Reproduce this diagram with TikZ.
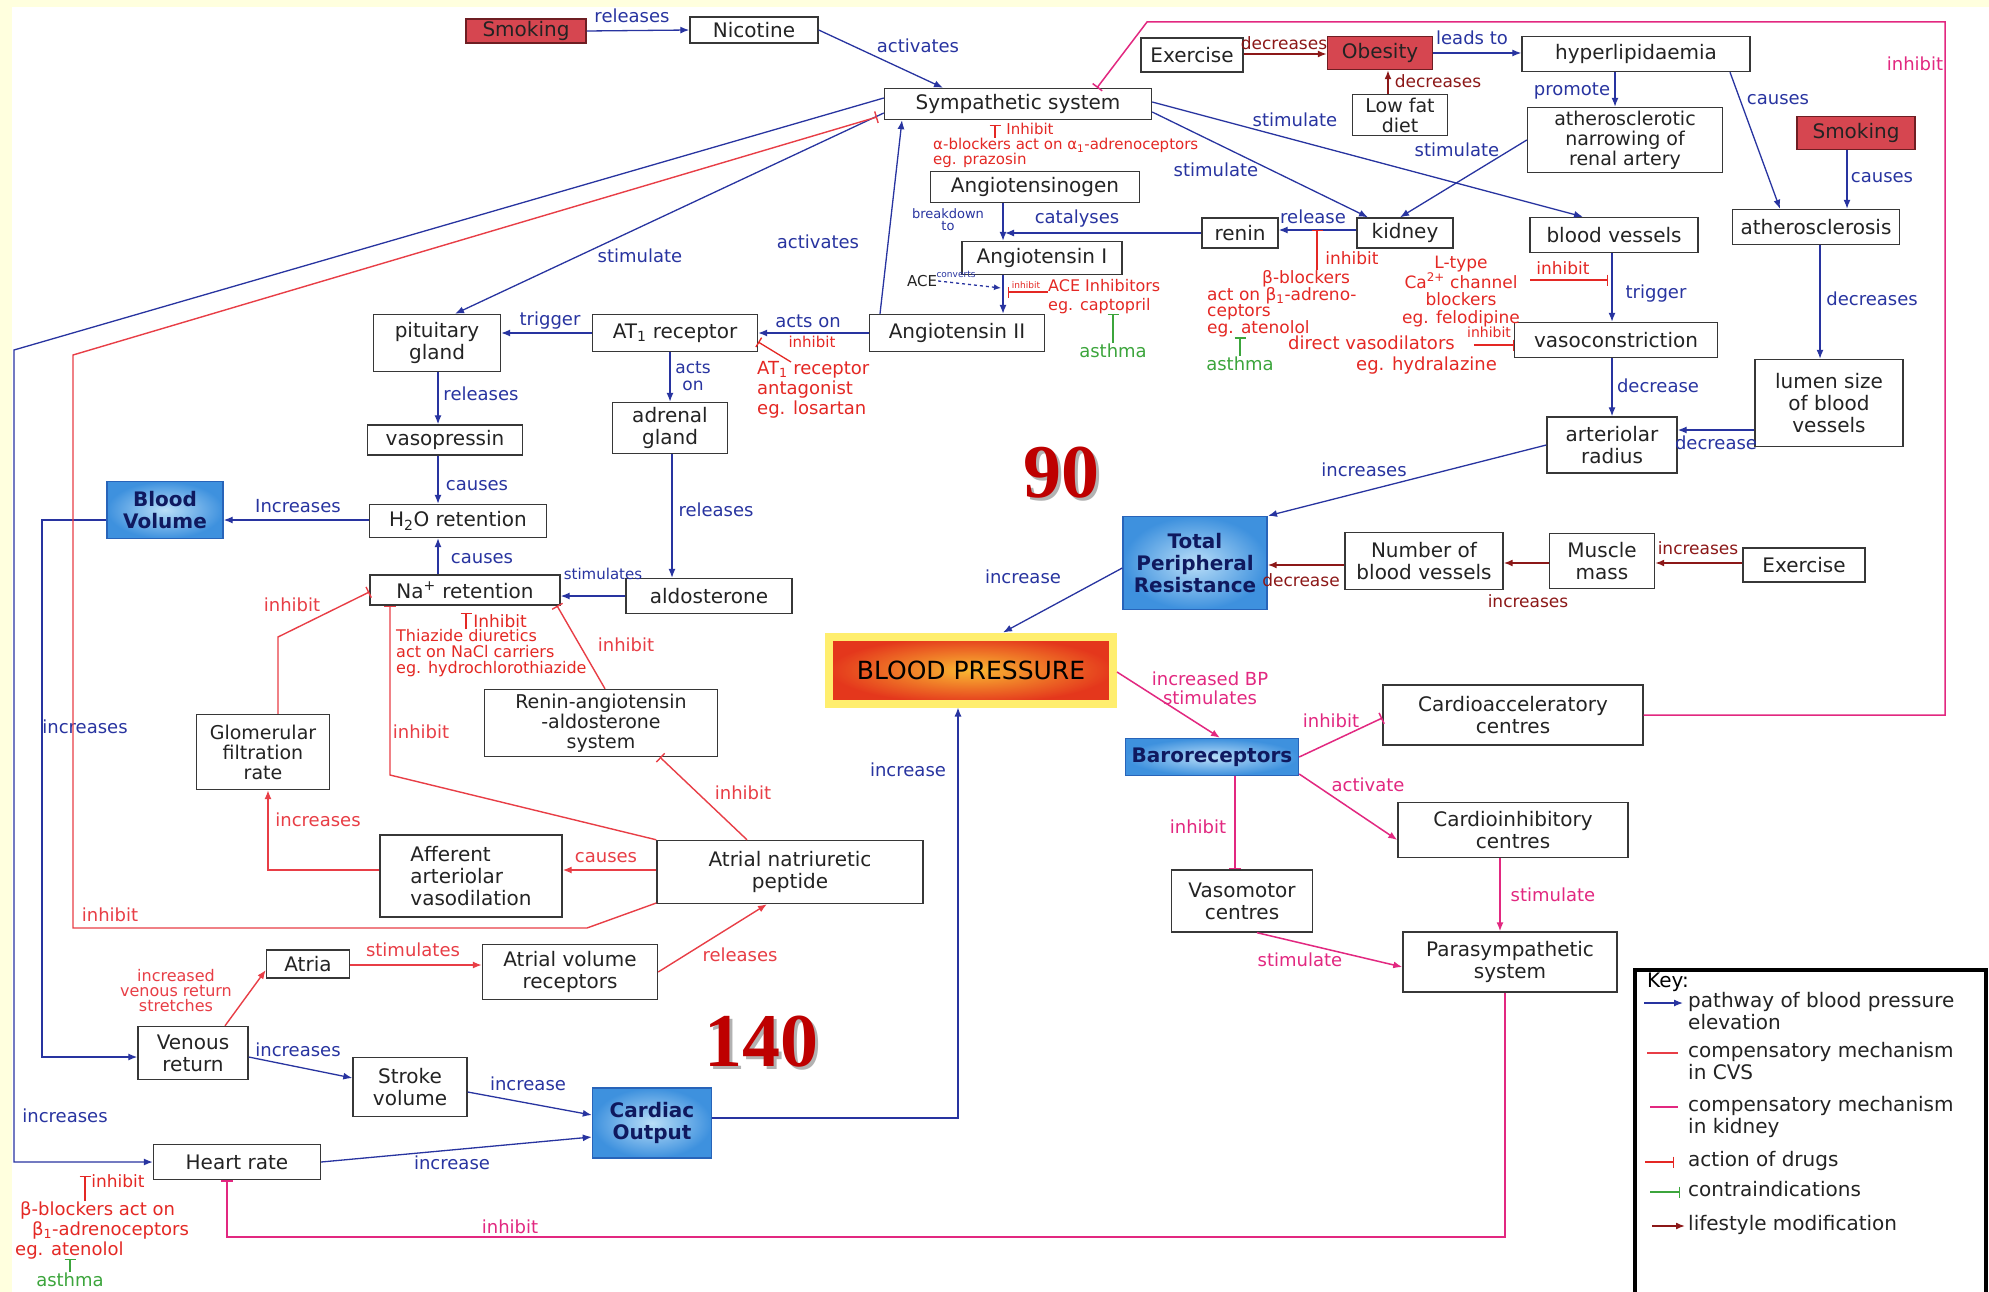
\documentclass[tikz,border=0pt]{standalone}
\usepackage{fontspec}
\setmainfont{DejaVu Sans}
\newfontfamily\numfont{Liberation Serif}
\usepackage{xcolor}
\definecolor{bg-yellow}{RGB}{255,255,222}
\definecolor{box-line}{RGB}{55,55,55}
\definecolor{text-primary}{RGB}{35,35,35}
\definecolor{pathway-blue}{RGB}{40,52,160}
\definecolor{mech-red}{RGB}{232,62,70}
\definecolor{mech-pink}{RGB}{226,40,128}
\definecolor{drug-red}{RGB}{228,40,36}
\definecolor{contra-green}{RGB}{60,165,60}
\definecolor{lifestyle-red}{RGB}{140,24,24}
\definecolor{smoke-fill}{RGB}{214,70,80}
\definecolor{smoke-line}{RGB}{110,30,35}
\definecolor{blue-inner}{RGB}{185,222,248}
\definecolor{blue-outer}{RGB}{62,145,222}
\definecolor{blue-line}{RGB}{40,100,185}
\definecolor{navy-text}{RGB}{15,25,95}
\definecolor{bp-yellow}{RGB}{255,238,110}
\definecolor{bp-inner}{RGB}{250,185,50}
\definecolor{bp-outer}{RGB}{228,55,28}
\definecolor{number-red}{RGB}{190,0,0}
\usepackage{tikz}
\usetikzlibrary{positioning,arrows.meta}

\newcommand{\cmBox}{\fontsize{20}{22}\selectfont}
\newcommand{\cmSmall}{\fontsize{19}{20}\selectfont}
\newcommand{\cmBP}{\fontsize{25}{26}\selectfont}
\newcommand{\cmLabel}{\fontsize{18}{19}\selectfont}
\newcommand{\cmNote}{\fontsize{17}{17}\selectfont}
\newcommand{\cmKey}{\fontsize{20}{22}\selectfont}

\begin{document}
\begin{tikzpicture}[
  x=1pt, y=-1pt,
  concept/.style 2 args={
    draw=box-line,
    line width=1.4pt,
    fill=white,
    minimum width=#1pt,
    minimum height=#2pt,
    inner sep=1pt,
    align=center,
    font=\cmBox,
    text=text-primary
  },
  riskbox/.style 2 args={concept={#1}{#2}, fill=smoke-fill, draw=smoke-line},
  outcome/.style 2 args={concept={#1}{#2}, inner color=blue-inner, outer color=blue-outer,
    draw=blue-line, text=navy-text, font=\cmBox\bfseries},
  blueline/.style={pathway-blue, line width=1.3pt, -{Latex[length=9pt,width=7pt]}},
  redline/.style={mech-red, line width=1.4pt, -{Latex[length=9pt,width=7pt]}},
  redbar/.style={mech-red, line width=1.4pt, -{Bar[width=12pt]}},
  pinkline/.style={mech-pink, line width=1.5pt, -{Latex[length=9pt,width=7pt]}},
  pinkbar/.style={mech-pink, line width=1.5pt, -{Bar[width=12pt]}},
  lifeline/.style={lifestyle-red, line width=1.6pt, -{Latex[length=9pt,width=7pt]}},
  drugbar/.style={drug-red, line width=1.3pt, -{Bar[width=11pt]}},
  greenbar/.style={contra-green, line width=1.3pt, -{Bar[width=11pt]}},
  bluelbl/.style={font=\cmLabel, text=pathway-blue, inner sep=1pt},
  redlbl/.style={font=\cmLabel, text=mech-red, inner sep=1pt},
  pinklbl/.style={font=\cmLabel, text=mech-pink, inner sep=1pt, align=center},
  lifelbl/.style={font=\fontsize{17}{18}\selectfont, text=lifestyle-red, inner sep=1pt},
  druglbl/.style={font=\cmNote, text=drug-red, inner sep=1pt},
  drugnote/.style={font=\cmNote, text=drug-red, inner sep=0pt, align=left},
  greennote/.style={font=\cmLabel, text=contra-green, inner sep=1pt},
  bignum/.style={font=\numfont\bfseries\fontsize{76}{76}\selectfont, text=number-red, inner sep=0pt},
  keytext/.style={font=\cmKey, anchor=north west, align=left, inner sep=0pt, text=text-primary}
]

% Page and frame
\useasboundingbox (0,0) rectangle (1989,1292);
\fill[bg-yellow] (0,0) rectangle (1989,1292);
\fill[white] (12,7) rectangle (1989,1292);

% Risk factors and top row
\node[riskbox={120}{24}] (smokea) at (526,31) {Smoking};
\node[concept={128}{26}] (nicotine) at (754,30) {Nicotine};
\node[concept={267}{31}] (symp) at (1018,104) {Sympathetic system};
\node[concept={102}{34}] (exercisea) at (1192,55) {Exercise};
\node[riskbox={105}{33}] (obesity) at (1380,53) {Obesity};
\node[concept={95}{41}, font=\cmSmall] (lowfat) at (1400,115) {Low fat\\diet};
\node[concept={228}{35}] (hyperlip) at (1636,54) {hyperlipidaemia};
\node[concept={195}{65}, font=\cmSmall] (narrowing) at (1625,140) {atherosclerotic\\narrowing of\\renal artery};
\node[riskbox={118}{33}] (smokeb) at (1856,133) {Smoking};
\node[concept={167}{35}] (athero) at (1816,227) {atherosclerosis};
\node[concept={148}{87}] (lumen) at (1829,403) {lumen size\\of blood\\vessels};

% Renin-angiotensin chain and vessels
\node[concept={209}{31}] (angiogen) at (1035,187) {Angiotensinogen};
\node[concept={76}{30}] (renin) at (1240,233) {renin};
\node[concept={96}{30}] (kidney) at (1405,233) {kidney};
\node[concept={168}{35}] (bloodves) at (1614,235) {blood vessels};
\node[concept={160}{33}] (angioi) at (1042,258) {Angiotensin I};
\node[concept={175}{37}] (angioii) at (957,333) {Angiotensin II};
\node[concept={165}{37}] (at1) at (675,333) {AT\textsubscript{1} receptor};
\node[concept={127}{57}] (pituitary) at (437,343) {pituitary\\gland};
\node[concept={115}{51}] (adrenal) at (670,428) {adrenal\\gland};
\node[concept={203}{35}] (vasocon) at (1616,340) {vasoconstriction};
\node[concept={130}{56}] (arteriolar) at (1612,445) {arteriolar\\radius};
\node[font=\fontsize{15}{15}\selectfont, text=text-primary, inner sep=1pt] (ace) at (922,281) {ACE};

% Fluid retention
\node[concept={155}{30}] (vasopressin) at (445,440) {vasopressin};
\node[outcome={116}{57}] (bloodvol) at (165,510) {Blood\\Volume};
\node[concept={177}{33}] (h2o) at (458,521) {H\textsubscript{2}O retention};
\node[concept={190}{30}] (na) at (465,590) {Na\textsuperscript{+} retention};
\node[concept={166}{35}] (aldo) at (709,596) {aldosterone};
\node[concept={233}{67}, font=\cmSmall] (raas) at (601,723) {Renin-angiotensin\\-aldosterone\\system};
\node[concept={133}{75}, font=\cmSmall] (gfr) at (263,752) {Glomerular\\filtration\\rate};
\node[concept={182}{82}, align=left] (afferent) at (471,876) {Afferent\\arteriolar\\vasodilation};

% Resistance and pressure
\node[outcome={144}{93}] (tpr) at (1195,563) {Total\\Peripheral\\Resistance};
\node[concept={158}{57}] (numves) at (1424,561) {Number of\\blood vessels};
\node[concept={105}{55}] (muscle) at (1602,561) {Muscle\\mass};
\node[concept={122}{34}] (exerciseb) at (1804,565) {Exercise};
\node[draw=bp-yellow, line width=8pt, minimum width=284pt, minimum height=67pt,
  inner color=bp-inner, outer color=bp-outer, font=\cmBP, text=black] (bp) at (971,670) {BLOOD PRESSURE};

% Baroreceptor reflex
\node[outcome={173}{37}] (baro) at (1212,757) {Baroreceptors};
\node[concept={260}{60}] (cardacc) at (1513,715) {Cardioacceleratory\\centres};
\node[concept={230}{55}] (cardinh) at (1513,830) {Cardioinhibitory\\centres};
\node[concept={141}{62}] (vasomotor) at (1242,901) {Vasomotor\\centres};
\node[concept={214}{60}] (parasym) at (1510,962) {Parasympathetic\\system};

% Cardiac output
\node[concept={83}{28}] (atria) at (308,964) {Atria};
\node[concept={175}{55}] (atrvol) at (570,972) {Atrial volume\\receptors};
\node[concept={266}{63}] (anp) at (790,872) {Atrial natriuretic\\peptide};
\node[concept={110}{53}] (venous) at (193,1053) {Venous\\return};
\node[concept={114}{59}] (stroke) at (410,1087) {Stroke\\volume};
\node[outcome={119}{70}] (cardout) at (652,1123) {Cardiac\\Output};
\node[concept={167}{35}] (heart) at (237,1162) {Heart rate};

% Pressure readings
\node[bignum, text=black!30] (ninetyshade) at (1064,476) {90};
\node[bignum] (ninety) at (1061,473) {90};
\node[bignum, text=black!30] (fortyshade) at (764,1045) {140};
\node[bignum] (forty) at (761,1042) {140};

% Pathway of blood pressure elevation
\draw[blueline] (smokea.east) -- (nicotine.west)
  node[bluelbl] at (632,16) {releases};
\draw[blueline] (nicotine.east) -- ([xshift=-75pt]symp.north)
  node[bluelbl] at (918,46) {activates};
\draw[blueline] ([yshift=2pt]symp.east) -- ([xshift=-31pt]bloodves.north)
  node[bluelbl] at (1295,120) {stimulate};
\draw[blueline] ([yshift=-8pt]symp.east) -- ([xshift=-37pt]kidney.north)
  node[bluelbl] at (1216,170) {stimulate};
\draw[blueline] (narrowing.west) -- ([xshift=-5pt]kidney.north)
  node[bluelbl] at (1457,150) {stimulate};
\draw[blueline] ([xshift=-77pt]angioii.north) -- ([xshift=-116pt]symp.south)
  node[bluelbl] at (818,242) {activates};
\draw[blueline] ([yshift=-9pt]symp.west) -- ([xshift=18pt]pituitary.north)
  node[bluelbl] at (640,256) {stimulate};
\draw[blueline] ([yshift=6pt]symp.west) -- (14,350) -- (14,1162) -- (heart.west)
  node[bluelbl] at (65,1116) {increases};
\draw[blueline] ([xshift=-32pt]angiogen.south) -- ([xshift=-39pt]angioi.north)
  node[bluelbl, align=center, font=\fontsize{13}{12}\selectfont] at (948,220) {breakdown\\to};
\coordinate (catalpt) at (1005,233);
\draw[blueline] (renin.west) -- (catalpt)
  node[bluelbl] at (1077,219) {catalyses};
\draw[blueline] ([xshift=-39pt]angioi.south) -- ([xshift=46pt]angioii.north);
\coordinate (acept) at (1001,288);
\draw[blueline, dashed, -{Latex[length=7pt,width=6pt]}] (ace.east) -- (acept)
  node[bluelbl, font=\fontsize{9}{9}\selectfont] at (956,274) {converts};
\draw[blueline] ([yshift=3pt]kidney.west) -- ([yshift=3pt]renin.east)
  node[bluelbl] at (1313,217) {release};
\draw[blueline] ([xshift=-21pt]hyperlip.south) -- ([xshift=-10pt]narrowing.north)
  node[bluelbl] at (1572,91) {promote};
\draw[blueline] ([xshift=94pt]hyperlip.south) -- ([xshift=-36pt]athero.north)
  node[bluelbl] at (1778,100) {causes};
\draw[blueline] ([xshift=-9pt]smokeb.south) -- ([xshift=31pt]athero.north)
  node[bluelbl] at (1882,178) {causes};
\draw[blueline] (obesity.east) -- (obesity.east -| hyperlip.west)
  node[bluelbl] at (1472,38) {leads to};
\draw[blueline] ([xshift=4pt]athero.south) -- ([xshift=-9pt]lumen.north)
  node[bluelbl] at (1872,299) {decreases};
\draw[blueline] ([yshift=-27pt]lumen.west) -- ([yshift=15pt]arteriolar.east)
  node[bluelbl] at (1716,443) {decrease};
\draw[blueline] ([xshift=-2pt]bloodves.south) -- ([xshift=-4pt]vasocon.north)
  node[bluelbl] at (1656,294) {trigger};
\draw[blueline] ([xshift=-4pt]vasocon.south) -- (arteriolar.north)
  node[bluelbl] at (1658,386) {decrease};
\draw[blueline] (arteriolar.west) -- ([xshift=73pt]tpr.north)
  node[bluelbl] at (1364,470) {increases};
\draw[blueline] ([yshift=-5pt]tpr.west) -- ([xshift=32pt]bp.north)
  node[bluelbl] at (1023,577) {increase};
\draw[blueline] ([yshift=5pt]cardout.east) -| ([xshift=-13pt]bp.south)
  node[bluelbl] at (908,770) {increase};
\draw[blueline] ([yshift=-5pt]stroke.east) -- ([yshift=8pt]cardout.west)
  node[bluelbl] at (528,1084) {increase};
\draw[blueline] (heart.east) -- ([yshift=-14pt]cardout.west)
  node[bluelbl] at (452,1163) {increase};
\draw[blueline] ([yshift=-4pt]venous.east) -- ([yshift=9pt]stroke.west)
  node[bluelbl] at (298,1050) {increases};
\draw[blueline] ([yshift=-10pt]bloodvol.west) -- (42,520) -- (42,1057) -- ([yshift=-4pt]venous.west)
  node[bluelbl] at (85,727) {increases};
\draw[blueline] ([yshift=1pt]h2o.west) -- ([yshift=-10pt]bloodvol.east)
  node[bluelbl] at (298,506) {Increases};
\draw[blueline] ([xshift=1pt]pituitary.south) -- ([xshift=-7pt]vasopressin.north)
  node[bluelbl] at (481,394) {releases};
\draw[blueline] ([xshift=-7pt]vasopressin.south) -- ([xshift=-20pt]h2o.north)
  node[bluelbl] at (477,486) {causes};
\draw[blueline] ([xshift=-27pt]na.north) -- ([xshift=-20pt]h2o.south)
  node[bluelbl] at (482,559) {causes};
\draw[blueline] (aldo.west) -- (aldo.west -| na.east)
  node[bluelbl, font=\fontsize{15}{15}\selectfont] at (603,574) {stimulates};
\draw[blueline] ([xshift=2pt]adrenal.south) -- ([xshift=-37pt]aldo.north)
  node[bluelbl] at (716,510) {releases};
\draw[blueline] ([xshift=-5pt]at1.south) -- (adrenal.north)
  node[bluelbl, align=center, font=\fontsize{17}{17}\selectfont] at (693,376) {acts\\on};
\draw[blueline] (at1.west) -- (at1.west -| pituitary.east)
  node[bluelbl] at (550,321) {trigger};
\draw[blueline] (angioii.west) -- (angioii.west -| at1.east)
  node[bluelbl] at (808,321) {acts on};

% Compensatory mechanisms (red)
\draw[redbar, shorten >=7pt] ([yshift=-31pt]anp.west) -- (587,928) -- (73,928) -- (73,355) -- ([yshift=-11pt]symp.west)
  node[redlbl] at (110,915) {inhibit};
\draw[redbar] (anp.north west) -- (390,775) -- ([xshift=-75pt]na.south)
  node[redlbl] at (421,732) {inhibit};
\draw[redbar] ([xshift=4pt]raas.north) -- ([xshift=92pt]na.south)
  node[redlbl] at (626,645) {inhibit};
\draw[redbar] ([xshift=-43pt]anp.north) -- ([xshift=59pt]raas.south)
  node[redlbl] at (743,793) {inhibit};
\draw[redbar] ([xshift=15pt]gfr.north) -- (278,637) -- ([yshift=-2pt]na.west)
  node[redlbl] at (292,605) {inhibit};
\draw[redline] ([yshift=6pt]afferent.west) -| ([xshift=5pt]gfr.south)
  node[redlbl] at (318,820) {increases};
\draw[redline] ([yshift=2pt]anp.west) -- ([yshift=6pt]afferent.east)
  node[redlbl] at (606,858) {causes};
\draw[redline] (atrvol.east) -- ([xshift=-23pt]anp.south)
  node[redlbl] at (740,955) {releases};
\draw[redline] ([yshift=-1pt]atria.east) -- ([yshift=7pt]atrvol.west)
  node[redlbl] at (413,950) {stimulates};
\draw[redline] ([xshift=32pt]venous.north) -- ([yshift=-6pt]atria.west)
  node[redlbl, align=center, font=\fontsize{16}{15}\selectfont] at (176,991) {increased\\venous return\\stretches};

% Compensatory mechanisms (pink)
\draw[pinkbar] (cardacc.east) -- (1945,715) -- (1945,22) -- (1147,22) -- ([xshift=79pt]symp.north)
  node[pinklbl] at (1915,64) {inhibit};
\draw[pinkline] ([yshift=-2pt]bp.east) -- ([xshift=8pt]baro.north)
  node[pinklbl] at (1210,688) {increased BP\\stimulates};
\draw[pinkbar] (baro.east) -- ([yshift=-3pt]cardacc.west)
  node[pinklbl] at (1331,721) {inhibit};
\draw[pinkline] ([yshift=-17pt]baro.east) -- ([yshift=-10pt]cardinh.west)
  node[pinklbl] at (1368,785) {activate};
\draw[pinkbar] ([xshift=23pt]baro.south) -- ([xshift=-7pt]vasomotor.north)
  node[pinklbl] at (1198,827) {inhibit};
\draw[pinkline] ([xshift=-13pt]cardinh.south) -- ([xshift=-10pt]parasym.north)
  node[pinklbl] at (1553,895) {stimulate};
\draw[pinkline] ([xshift=15pt]vasomotor.south) -- ([yshift=-5pt]parasym.west)
  node[pinklbl] at (1300,960) {stimulate};
\draw[pinkbar] ([xshift=-5pt]parasym.south) -- (1505,1237) -- (227,1237) -- ([xshift=-10pt]heart.south)
  node[pinklbl] at (510,1227) {inhibit};

% Lifestyle modification
\draw[lifeline] ([yshift=1pt]exercisea.east) -- ([yshift=-1pt]obesity.west)
  node[lifelbl] at (1284,43) {decreases};
\draw[lifeline] ([xshift=-12pt]lowfat.north) -- ([xshift=8pt]obesity.south)
  node[lifelbl] at (1438,81) {decreases};
\draw[lifeline] ([yshift=2pt]exerciseb.west) -- ([yshift=-2pt]muscle.east)
  node[lifelbl] at (1698,548) {increases};
\draw[lifeline] ([yshift=-2pt]muscle.west) -- ([yshift=-2pt]numves.east)
  node[lifelbl] at (1528,601) {increases};
\draw[lifeline] ([yshift=-4pt]numves.west) -- ([yshift=-2pt]tpr.east)
  node[lifelbl] at (1301,580) {decrease};

% Action of drugs and contraindications
\node[drugnote, font=\fontsize{15}{15}\selectfont, anchor=north west] (alphanote) at (933,138)
  {α-blockers act on α\textsubscript{1}-adrenoceptors\\eg. prazosin};
\draw[drugbar, shorten >=5pt] ([xshift=62pt]alphanote.north west) -- ([xshift=-23pt]symp.south)
  node[druglbl, font=\fontsize{15}{15}\selectfont] at (1030,129) {Inhibit};

\node[drugnote, font=\fontsize{18}{20}\selectfont, anchor=north west] (at1note) at (757,361)
  {AT\textsubscript{1} receptor\\antagonist\\eg. losartan};
\draw[drugbar] ([xshift=34pt, yshift=-1pt]at1note.north west) -- ([yshift=-9pt]at1.east)
  node[druglbl, font=\fontsize{15}{15}\selectfont] at (812,342) {inhibit};

\node[drugnote, font=\fontsize{16}{19}\selectfont, anchor=north west] (acenote) at (1048,279)
  {ACE Inhibitors\\eg. captopril};
\coordinate (acebar) at (1008,292);
\draw[drugbar] (acenote.west |- acebar) -- (acebar)
  node[druglbl, font=\fontsize{9}{9}\selectfont] at (1026,285) {inhibit};
\node[greennote] (asthmaa) at (1113,351) {asthma};
\draw[greenbar] (asthmaa.north) -- (asthmaa.north |- acenote.south);

\node[drugnote, font=\fontsize{17}{15.5}\selectfont, anchor=north west] (betanote) at (1207,270)
  {\hspace*{55pt}β-blockers\\act on β\textsubscript{1}-adreno-\\ceptors\\eg. atenolol};
\coordinate (releasept) at (1317,230);
\draw[drugbar] (betanote.north west -| releasept) -- (releasept)
  node[druglbl] at (1352,258) {inhibit};
\node[greennote] (asthmab) at (1240,364) {asthma};
\draw[greenbar] (asthmab.north) -- (asthmab.north |- betanote.south);

\node[drugnote, font=\fontsize{17}{17.5}\selectfont, align=center, anchor=north] (canote) at (1461,256)
  {L-type\\Ca\textsuperscript{2+} channel\\blockers\\eg. felodipine};
\coordinate (triggerpt) at (1608,280);
\draw[drugbar] ([xshift=10pt]canote.east |- triggerpt) -- (triggerpt)
  node[druglbl] at (1563,268) {inhibit};

\node[drugnote, font=\fontsize{18}{21}\selectfont, anchor=north west] (hydnote) at (1288,336)
  {direct vasodilators\\\hspace*{68pt}eg. hydralazine};
\coordinate (vasopt) at ([yshift=-5pt]vasocon.west);
\draw[drugbar] ([xshift=-40pt]vasopt) -- (vasopt)
  node[druglbl, font=\fontsize{14}{14}\selectfont] at (1489,332) {inhibit};

\node[drugnote, font=\fontsize{16}{16}\selectfont, anchor=north west] (thznote) at (396,629)
  {Thiazide diuretics\\act on NaCl carriers\\eg. hydrochlorothiazide};
\draw[drugbar, shorten >=7pt] ([xshift=70pt]thznote.north west) -- ([xshift=1pt]na.south)
  node[druglbl] at (500,621) {Inhibit};

\node[drugnote, font=\fontsize{18}{20}\selectfont, anchor=north west] (hbetanote) at (15,1201)
  {\hspace*{5pt}β-blockers act on\\\hspace*{17pt}β\textsubscript{1}-adrenoceptors\\eg. atenolol};
\coordinate (heartpt) at (85,1176);
\draw[drugbar] ([xshift=70pt]hbetanote.north west) -- (heartpt)
  node[druglbl] at (118,1181) {inhibit};
\node[greennote] (asthmac) at (70,1280) {asthma};
\draw[greenbar] (asthmac.north) -- (asthmac.north |- hbetanote.south);

% Key
\draw[line width=4pt, black] (1635,970) rectangle (1986,1302);
\node[font=\cmKey, anchor=west, inner sep=0pt] (keytitle) at (1647,982) {Key:};
\node[keytext] (keya) at (1688,992) {pathway of blood pressure\\elevation};
\node[keytext] (keyb) at (1688,1042) {compensatory mechanism\\in CVS};
\node[keytext] (keyc) at (1688,1096) {compensatory mechanism\\in kidney};
\node[keytext] (keyd) at (1688,1151) {action of drugs};
\node[keytext] (keye) at (1688,1181) {contraindications};
\node[keytext] (keyf) at (1688,1215) {lifestyle modification};
\draw[blueline] ([xshift=-44pt, yshift=-11pt]keya.north west) -- ([xshift=-5pt, yshift=-11pt]keya.north west);
\draw[mech-red, line width=1.6pt] ([xshift=-41pt, yshift=-11pt]keyb.north west) -- ([xshift=-10pt, yshift=-11pt]keyb.north west);
\draw[mech-pink, line width=1.6pt] ([xshift=-38pt, yshift=-11pt]keyc.north west) -- ([xshift=-10pt, yshift=-11pt]keyc.north west);
\draw[drugbar] ([xshift=-43pt, yshift=-11pt]keyd.north west) -- ([xshift=-14pt, yshift=-11pt]keyd.north west);
\draw[greenbar] ([xshift=-38pt, yshift=-11pt]keye.north west) -- ([xshift=-8pt, yshift=-11pt]keye.north west);
\draw[lifeline] ([xshift=-36pt, yshift=-11pt]keyf.north west) -- ([xshift=-3pt, yshift=-11pt]keyf.north west);

\end{tikzpicture}
\end{document}
